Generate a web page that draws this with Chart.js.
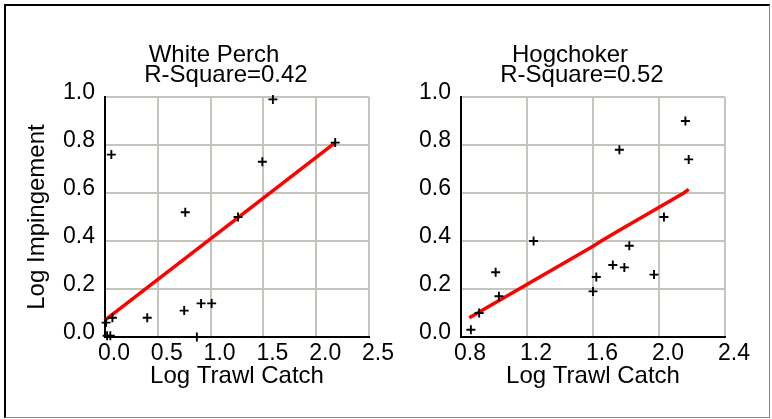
<!DOCTYPE html>
<html>
<head>
<meta charset="utf-8">
<script src="https://cdn.jsdelivr.net/npm/chart.js@4"></script>
<style>
  html, body { margin: 0; padding: 0; background: #fff; }
  #wrap { position: relative; width: 772px; height: 419px; overflow: hidden; }
  #frame { position: absolute; left: 4px; top: 4px; width: 763px; height: 411px;
           border-left: 2px solid #000; border-top: 2px solid #000;
           border-right: 1px solid #888; border-bottom: 1px solid #888; }
  canvas { position: absolute; left: 0; top: 0; }
</style>
</head>
<body>
<div id="wrap">
  <div id="frame"></div>
  <canvas id="perch" width="772" height="419"></canvas>
  <canvas id="hog" width="772" height="419"></canvas>
</div>
<script>
// White Perch: log trawl catch vs log impingement
const perchCatch = [1.59, 2.18, 0.06, 1.49, 0.76, 1.26, 1.01, 0.91, 0.75, 0.40, 0.07, 0.01, 0.02, 0.05, 0.87];
const perchImp   = [0.99, 0.81, 0.76, 0.73, 0.52, 0.50, 0.14, 0.14, 0.11, 0.08, 0.08, 0.06, 0.005, 0.005, 0.0];
const perchFitX  = [0.00, 0.87, 2.18];
const perchFitY  = [0.07, 0.365, 0.81];
const perchTitle = ['White Perch', 'R-Square=0.42'];

// Hogchoker
const hogCatch = [2.16, 1.76, 2.18, 2.03, 1.24, 1.82, 1.72, 1.79, 1.97, 1.01, 1.62, 1.60, 1.03, 0.91, 0.86];
const hogImp   = [0.90, 0.78, 0.74, 0.50, 0.40, 0.38, 0.30, 0.29, 0.26, 0.27, 0.25, 0.19, 0.17, 0.10, 0.03];
const hogFitX  = [0.85, 1.60, 1.65, 1.76, 2.15, 2.18];
const hogFitY  = [0.08, 0.378, 0.40, 0.445, 0.60, 0.615];
const hogTitle = ['Hogchoker', 'R-Square=0.52'];

const xTitle = 'Log Trawl Catch';
const yTitle = 'Log Impingement';

const FONT = "'Liberation Sans', Arial, sans-serif";
const GRID = '#c4c4bc';

const pts = (xs, ys) => xs.map((x, i) => ({ x, y: ys[i] }));

// two-line heading above each panel
const panelTitles = {
  id: 'panelTitles',
  afterDraw(chart, args, opts) {
    const { ctx, chartArea } = chart;
    const cx = (chartArea.left + chartArea.right) / 2;
    ctx.save();
    ctx.font = '24px ' + FONT;
    ctx.fillStyle = '#000';
    ctx.textAlign = 'center';
    ctx.textBaseline = 'alphabetic';
    opts.lines.forEach((t, i) => ctx.fillText(t, cx + opts.shift[i], opts.base[i]));
    ctx.restore();
  }
};

function makePanel(id, cfg) {
  return new Chart(document.getElementById(id), {
    type: 'scatter',
    data: {
      datasets: [
        {
          data: pts(cfg.xs, cfg.ys),
          pointStyle: 'cross',
          pointRadius: 4.5,
          pointBorderWidth: 1.9,
          borderColor: '#000',
          backgroundColor: '#000',
          clip: false
        },
        {
          type: 'line',
          data: pts(cfg.fitX, cfg.fitY),
          borderColor: '#ff0000',
          borderWidth: 3.5,
          pointRadius: 0,
          tension: 0,
          fill: false,
          clip: false
        }
      ]
    },
    options: {
      responsive: false,
      animation: false,
      events: [],
      layout: { padding: cfg.padding },
      plugins: {
        legend: { display: false },
        tooltip: { enabled: false },
        panelTitles: { lines: cfg.title, shift: [-23, -11], base: [62, 82] }
      },
      scales: {
        x: {
          type: 'linear',
          min: cfg.xMin, max: cfg.xMax,
          ticks: {
            stepSize: cfg.xStep, padding: 3, labelOffset: 9, maxRotation: 0,
            color: '#000', font: { family: FONT, size: 23 },
            callback: v => v.toFixed(1)
          },
          grid: { color: GRID, lineWidth: 2, drawTicks: false },
          border: { color: '#000', width: 2 },
          title: {
            display: true, text: xTitle, color: '#000',
            font: { family: FONT, size: 24 }, padding: { top: 0, bottom: 28 }
          },
          afterFit: s => { s.height = 82; }
        },
        y: {
          type: 'linear',
          min: 0, max: 1,
          ticks: {
            stepSize: 0.2, padding: 10, labelOffset: -4,
            color: '#000', font: { family: FONT, size: 23 },
            callback: v => v.toFixed(1)
          },
          grid: { color: GRID, lineWidth: 2, drawTicks: false },
          border: { color: '#000', width: 2 },
          title: {
            display: !!cfg.yTitle, text: cfg.yTitle || '', color: '#000',
            font: { family: FONT, size: 24 }, padding: { top: 23, bottom: 0 }
          },
          afterFit: s => { s.width = cfg.yWidth; }
        }
      }
    },
    plugins: [panelTitles]
  });
}

makePanel('perch', {
  xs: perchCatch, ys: perchImp, fitX: perchFitX, fitY: perchFitY, title: perchTitle,
  xMin: 0, xMax: 2.5, xStep: 0.5, yTitle: yTitle, yWidth: 105,
  padding: { left: 0, top: 97, right: 403, bottom: 0 }
});

makePanel('hog', {
  xs: hogCatch, ys: hogImp, fitX: hogFitX, fitY: hogFitY, title: hogTitle,
  xMin: 0.8, xMax: 2.4, xStep: 0.4, yTitle: null, yWidth: 61,
  padding: { left: 400, top: 97, right: 47, bottom: 0 }
});
</script>
</body>
</html>
